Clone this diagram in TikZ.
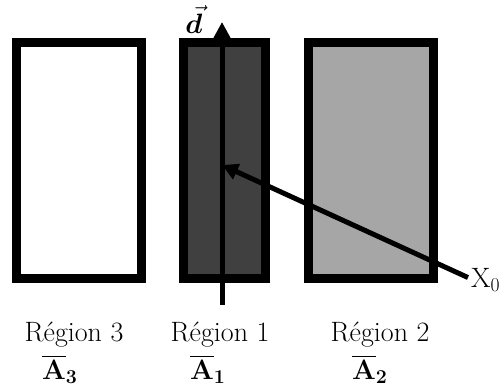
\RequirePackage{fix-cm}
\documentclass[tikz,border=0pt]{standalone}
\usepackage{amsmath,bm}
\usetikzlibrary{arrows.meta}

\begin{document}
\begin{tikzpicture}[x=1pt,y=-1pt,line join=miter,
  wall/.style={line width=9pt},
  lbl/.style={font=\fontsize{28}{32}\selectfont,inner sep=0pt},
  ptr/.style={line width=5pt,-{Triangle[length=16pt,width=16pt]}}]
  \definecolor{darkzone}{RGB}{64,64,64}
  \definecolor{lightzone}{RGB}{166,166,166}
  \useasboundingbox (0,0) rectangle (502,389);

  % ---- regions ----
  \draw[wall] (16.5,42.5) rectangle (141.5,278.5);
  \draw[wall,fill=darkzone] (183.5,42.5) rectangle (265.5,278.5);
  \draw[wall,fill=lightzone] (308.5,42.5) rectangle (433.5,278.5);

  % ---- direction d ----
  \coordinate (dbot) at (222,305);
  \coordinate (dtop) at (222,22);
  \draw[ptr] (dbot) -- (dtop);
  \node[lbl,anchor=base] (dvec) at (194,33) {$\vec{\bm d}$};

  % ---- point X0 ----
  \coordinate (x0pt) at (222,165);
  \node[lbl,anchor=base west] (x0) at (471,287) {X$_0$};
  \draw[ptr] ([xshift=-3pt,yshift=2pt]x0.west) -- (x0pt);

  % ---- labels ----
  \node[lbl,anchor=base] (r3txt) at (74,341) {Région 3};
  \node[lbl,anchor=base] (r1txt) at (220,341) {Région 1};
  \node[lbl,anchor=base] (r2txt) at (380,341) {Région 2};
  \node[lbl,anchor=base west] (a3) at (42,379) {$\overline{\mathbf{A}}_{\mathbf{3}}$};
  \node[lbl,anchor=base west] (a1) at (190,379) {$\overline{\mathbf{A}}_{\mathbf{1}}$};
  \node[lbl,anchor=base west] (a2) at (352,379) {$\overline{\mathbf{A}}_{\mathbf{2}}$};
\end{tikzpicture}
\end{document}
